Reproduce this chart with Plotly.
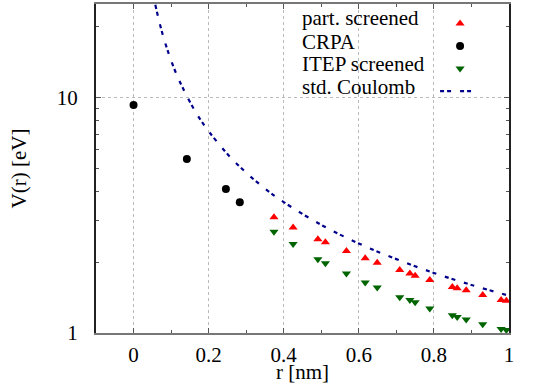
"""Screened Coulomb interaction V(r) on a log scale"""

import plotly.graph_objects as go

# part. screened (up triangles)
PART_R = [0.374, 0.425, 0.491, 0.511, 0.567, 0.617, 0.649, 0.709, 0.736, 0.750,
          0.789, 0.849, 0.862, 0.886, 0.930, 0.979, 0.993]
PART_V = [3.10, 2.81, 2.50, 2.43, 2.23, 2.08, 1.99, 1.85, 1.79, 1.75,
          1.68, 1.57, 1.55, 1.52, 1.45, 1.38, 1.37]

# CRPA (dots)
CRPA_R = [0.0, 0.142, 0.246, 0.283]
CRPA_V = [9.31, 5.49, 4.09, 3.59]

# ITEP screened (down triangles)
ITEP_R = [0.374, 0.425, 0.491, 0.511, 0.567, 0.617, 0.649, 0.709, 0.736, 0.750,
          0.789, 0.849, 0.862, 0.886, 0.930, 0.979, 0.993]
ITEP_V = [2.69, 2.39, 2.06, 1.98, 1.79, 1.64, 1.56, 1.42, 1.38, 1.35,
          1.27, 1.19, 1.17, 1.14, 1.09, 1.04, 1.03]

# std. Coulomb (dashed curve)
COUL_R = [0.058, 0.065, 0.072, 0.08, 0.09, 0.1, 0.115, 0.13, 0.15, 0.175, 0.2,
          0.25, 0.3, 0.35, 0.4, 0.5, 0.6, 0.7, 0.8, 0.9, 1.0]
COUL_V = [24.8, 22.2, 20.0, 18.0, 16.0, 14.4, 12.5, 11.1, 9.6, 8.2, 7.2,
          5.76, 4.8, 4.11, 3.6, 2.88, 2.4, 2.06, 1.8, 1.6, 1.44]

SERIES_NAMES = ["part. screened", "CRPA", "ITEP screened", "std. Coulomb"]

FONT = "'Liberation Serif', 'Times New Roman', serif"

fig = go.Figure()

# legend keys sit right of the text (gnuplot style), so traces get blank names
# and the labels are written as annotations
fig.add_trace(go.Scatter(x=PART_R, y=PART_V, mode="markers", name=" ",
                         marker=dict(symbol="triangle-up", size=8, color="#ff0000")))
fig.add_trace(go.Scatter(x=CRPA_R, y=CRPA_V, mode="markers", name=" ",
                         marker=dict(symbol="circle", size=8, color="#000000")))
fig.add_trace(go.Scatter(x=ITEP_R, y=ITEP_V, mode="markers", name=" ",
                         marker=dict(symbol="triangle-down", size=8, color="#006400")))
fig.add_trace(go.Scatter(x=COUL_R, y=COUL_V, mode="lines", name=" ",
                         line=dict(color="#00008b", width=2.2, dash="4px,3px,4px,9px", shape="spline")))

label_y = [0.957, 0.884, 0.818, 0.748]
annotations = []
for name, y in zip(SERIES_NAMES, label_y):
    annotations.append(dict(
        xref="paper", yref="paper", x=0.494, y=y,
        xanchor="left", yanchor="middle", showarrow=False,
        text=name, font=dict(family=FONT, size=21, color="black"),
    ))

# x axis title placed by hand, bottom edge flush with the page bottom
annotations.append(dict(
    xref="paper", yref="paper", x=0.5, y=0, yshift=-52,
    xanchor="center", yanchor="bottom", showarrow=False, borderpad=0,
    text="r [nm]", font=dict(family=FONT, size=21, color="black"),
))

fig.update_layout(
    width=550, height=385,
    margin=dict(l=96, r=41, t=4, b=52),
    paper_bgcolor="white", plot_bgcolor="white",
    font=dict(family=FONT, size=21, color="black"),
    legend=dict(x=0.821, y=0.99, xanchor="left", yanchor="top",
                bgcolor="rgba(0,0,0,0)", font=dict(family=FONT, size=15),
                tracegroupgap=0, itemwidth=40),
    showlegend=True,
    annotations=annotations,
)

fig.update_xaxes(
    range=[-0.1, 1], tickvals=[0, 0.2, 0.4, 0.6, 0.8, 1], ticktext=["0", "0.2", "0.4", "0.6", "0.8", "1"],
    ticks="inside", ticklen=5, tickcolor="#555", mirror="ticks",
    showline=True, linecolor="#777", linewidth=2,
    showgrid=True, gridcolor="#bbb", griddash="dot", gridwidth=1,
    minor=dict(tickvals=[-0.1, 0.1, 0.3, 0.5, 0.7, 0.9], ticks="inside", ticklen=3,
               tickcolor="#555", showgrid=False),
    zeroline=False, ticklabelstandoff=2, automargin=False,
)
fig.update_yaxes(
    type="log", range=[0, 1.398], tickvals=[1, 10], ticktext=["1", "10"],
    ticks="inside", ticklen=5, tickcolor="#555", mirror="ticks",
    showline=True, linecolor="#222", linewidth=2,
    showgrid=True, gridcolor="#bbb", griddash="dot", gridwidth=1,
    minor=dict(tickvals=[2, 3, 4, 5, 6, 7, 8, 9, 20], ticks="inside", ticklen=3,
               tickcolor="#555", showgrid=False),
    zeroline=False, ticklabelstandoff=12, automargin=False,
    title=dict(text="V(r) [eV]", standoff=24, font=dict(family=FONT, size=21)),
)

# drop the default page margin so the figure fills the window from the corner
fig.write_html("out.html", config={"displayModeBar": False},
               post_script="document.body.style.margin='0';")
